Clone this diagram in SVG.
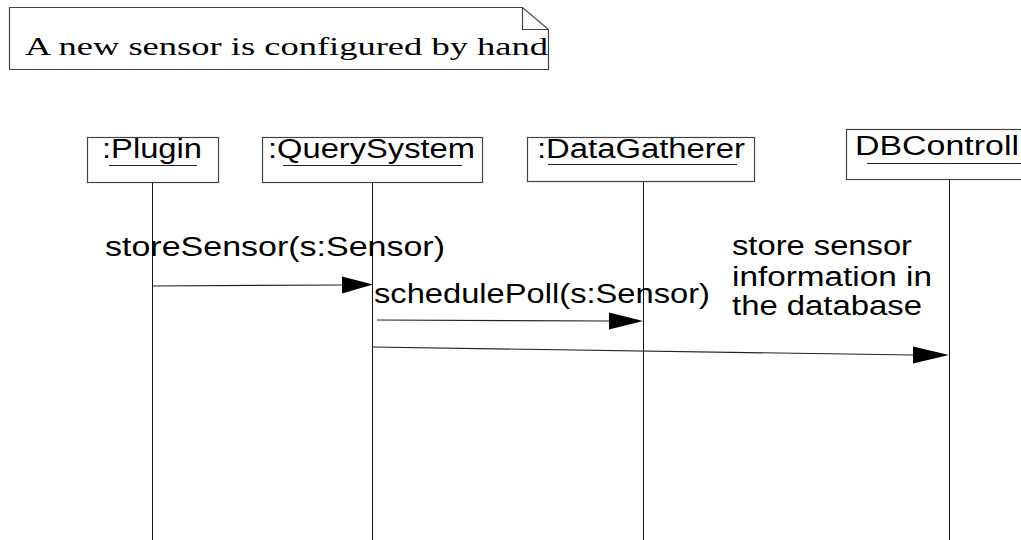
<svg xmlns="http://www.w3.org/2000/svg" width="1021" height="540" viewBox="0 0 1021 540">
  <style>
    .box { fill: #ffffff; stroke: #444444; stroke-width: 1.2; }
    .lbl { font-family: "Liberation Sans", Arial, sans-serif; font-size: 27px; fill: #000000; }
    .note-text { font-family: "Liberation Serif", "Times New Roman", serif; font-size: 25px; fill: #000000; }
    .uline { stroke: #222222; stroke-width: 1; }
    .life { stroke: #111111; stroke-width: 1; fill: none; }
    .msg { stroke: #222222; stroke-width: 1.2; fill: none; }
    .head { fill: #000000; stroke: none; }
  </style>

  <!-- comment note with folded corner -->
  <g id="note">
    <path d="M9.5,7.5 H522.5 L548.5,29.5 V69.5 H9.5 Z" fill="#ffffff" stroke="#444444" stroke-width="1.2"/>
    <path d="M522.5,7.5 V29.5 H548.5" fill="none" stroke="#444444" stroke-width="1.2"/>
    <text class="note-text" x="25" y="55" textLength="523" lengthAdjust="spacingAndGlyphs">A new sensor is configured by hand</text>
  </g>

  <!-- lifelines and messages -->
  <g id="connectors">
    <line class="life" x1="152.5" y1="182" x2="152.5" y2="540"/>
    <line class="life" x1="372.5" y1="182" x2="372.5" y2="540" stroke="#777777"/>
    <line class="life" x1="643.5" y1="181" x2="643.5" y2="540"/>
    <line class="life" x1="949.5" y1="179" x2="949.5" y2="540"/>

    <line class="msg" x1="152" y1="286" x2="343" y2="285"/>
    <polygon class="head" points="342,276.5 373,284.5 342,293.5"/>

    <line class="msg" x1="377" y1="320" x2="610" y2="321"/>
    <polygon class="head" points="609,312.5 643,321 609,329.5"/>

    <line class="msg" x1="372" y1="347" x2="914" y2="355"/>
    <polygon class="head" points="913,346.5 949,355 913,363.5"/>
  </g>

  <g id="plugin">
    <rect class="box" x="87.5" y="137.5" width="131" height="45"/>
    <text class="lbl" x="102" y="158" textLength="100" lengthAdjust="spacingAndGlyphs">:Plugin</text>
    <line class="uline" x1="109" y1="165.5" x2="197" y2="165.5"/>
  </g>

  <g id="querysystem">
    <rect class="box" x="262.5" y="137.5" width="220" height="45"/>
    <text class="lbl" x="268" y="158" textLength="207" lengthAdjust="spacingAndGlyphs">:QuerySystem</text>
    <line class="uline" x1="283" y1="165.5" x2="462" y2="165.5"/>
  </g>

  <g id="datagatherer">
    <rect class="box" x="527.5" y="137.5" width="227" height="44"/>
    <text class="lbl" x="537" y="158" textLength="208" lengthAdjust="spacingAndGlyphs">:DataGatherer</text>
    <line class="uline" x1="548" y1="164.5" x2="737" y2="164.5"/>
  </g>

  <g id="dbcontroller">
    <rect class="box" x="846.5" y="129.5" width="200" height="50"/>
    <text class="lbl" x="855" y="155" textLength="164" lengthAdjust="spacingAndGlyphs">DBControll</text>
    <line class="uline" x1="867" y1="163.5" x2="1021" y2="163.5"/>
  </g>

  <!-- message labels -->
  <g id="labels">
    <text class="lbl" x="105" y="256" textLength="340" lengthAdjust="spacingAndGlyphs">storeSensor(s:Sensor)</text>
    <text class="lbl" x="374" y="303" textLength="336" lengthAdjust="spacingAndGlyphs">schedulePoll(s:Sensor)</text>
    <text class="lbl" x="732" y="255" textLength="180" lengthAdjust="spacingAndGlyphs">store sensor</text>
    <text class="lbl" x="732" y="286" textLength="200" lengthAdjust="spacingAndGlyphs">information in</text>
    <text class="lbl" x="732" y="315" textLength="190" lengthAdjust="spacingAndGlyphs">the database</text>
  </g>
</svg>
